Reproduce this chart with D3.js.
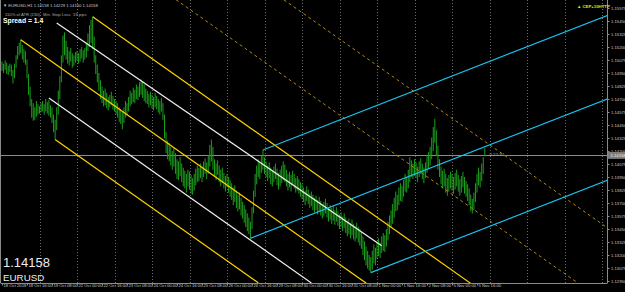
<!DOCTYPE html>
<html><head><meta charset="utf-8">
<script src="https://cdn.jsdelivr.net/npm/d3@7"></script>
<style>html,body{margin:0;padding:0;background:#000;overflow:hidden}svg{display:block}</style>
</head><body>
<svg id="c" width="625" height="292"></svg>
<script>
// ---- data (EURUSD H1, bar 0 = 18 Oct 2018 00:00) ----
const highs = [
1.1506,1.1504,1.1507,1.1505,1.1502,1.1504,1.1503,1.1498,1.1504,1.1512,
1.1521,1.1524,1.1527,1.1522,1.1518,1.1516,1.1508,1.1494,1.1482,1.1470,
1.1466,1.1462,1.1468,1.1465,1.1463,1.1466,1.1468,1.1465,1.1470,1.1467,
1.1469,1.1464,1.1462,1.1455,1.1450,1.1462,1.1478,1.1492,1.1512,1.1531,
1.1534,1.1526,1.1520,1.1516,1.1519,1.1514,1.1512,1.1515,1.1516,1.1514,
1.1518,1.1520,1.1517,1.1519,1.1524,1.1533,1.1541,1.1546,1.1549,1.1530,
1.1512,1.1503,1.1495,1.1488,1.1482,1.1478,1.1480,1.1476,1.1472,1.1474,
1.1477,1.1473,1.1470,1.1468,1.1466,1.1462,1.1460,1.1458,1.1462,1.1468,
1.1466,1.1472,1.1478,1.1476,1.1481,1.1479,1.1484,1.1482,1.1486,1.1489,
1.1487,1.1484,1.1480,1.1478,1.1475,1.1477,1.1474,1.1472,1.1476,1.1473,
1.1470,1.1468,1.1471,1.1466,1.1455,1.1438,1.1430,1.1428,1.1424,1.1420,
1.1423,1.1418,1.1412,1.1410,1.1414,1.1408,1.1404,1.1401,1.1398,1.1402,
1.1400,1.1397,1.1394,1.1398,1.1403,1.1406,1.1404,1.1408,1.1405,1.1410,
1.1413,1.1409,1.1416,1.1426,1.1431,1.1424,1.1412,1.1408,1.1411,1.1406,
1.1402,1.1404,1.1399,1.1396,1.1398,1.1395,1.1392,1.1389,1.1385,1.1387,
1.1382,1.1378,1.1380,1.1375,1.1371,1.1368,1.1364,1.1360,1.1356,1.1352,
1.1366,1.1382,1.1398,1.1406,1.1412,1.1409,1.1415,1.1421,1.1414,1.1410,
1.1406,1.1409,1.1404,1.1401,1.1405,1.1408,1.1403,1.1399,1.1402,1.1406,
1.1410,1.1407,1.1402,1.1398,1.1400,1.1397,1.1401,1.1398,1.1394,1.1396,
1.1393,1.1390,1.1388,1.1385,1.1382,1.1386,1.1383,1.1379,1.1381,1.1378,
1.1375,1.1377,1.1373,1.1376,1.1372,1.1369,1.1371,1.1374,1.1370,1.1366,
1.1368,1.1365,1.1367,1.1363,1.1366,1.1362,1.1359,1.1361,1.1357,1.1360,
1.1356,1.1353,1.1355,1.1351,1.1354,1.1350,1.1348,1.1351,1.1347,1.1345,
1.1342,1.1338,1.1333,1.1328,1.1324,1.1320,1.1318,1.1324,1.1330,1.1327,
1.1333,1.1336,1.1332,1.1338,1.1341,1.1339,1.1345,1.1352,1.1358,1.1363,
1.1369,1.1375,1.1381,1.1378,1.1385,1.1389,1.1386,1.1392,1.1398,1.1395,
1.1402,1.1414,1.1411,1.1408,1.1412,1.1409,1.1405,1.1410,1.1413,1.1408,
1.1404,1.1409,1.1415,1.1419,1.1424,1.1433,1.1443,1.1451,1.1440,1.1425,
1.1412,1.1405,1.1401,1.1403,1.1398,1.1394,1.1397,1.1400,1.1398,1.1395,
1.1399,1.1402,1.1397,1.1393,1.1396,1.1400,1.1395,1.1391,1.1388,1.1384,
1.1378,1.1374,1.1380,1.1389,1.1398,1.1404,1.1400,1.1408,1.1414,1.14229];
const lows = [
1.1497,1.1495,1.1498,1.1494,1.1493,1.1496,1.1492,1.1485,1.1490,1.1500,
1.1508,1.1512,1.1514,1.1508,1.1505,1.1503,1.1490,1.1474,1.1463,1.1452,
1.1449,1.1450,1.1453,1.1455,1.1456,1.1457,1.1458,1.1455,1.1458,1.1456,
1.1454,1.1452,1.1447,1.1438,1.1431,1.1440,1.1455,1.1470,1.1486,1.1505,
1.1512,1.1508,1.1504,1.1502,1.1506,1.1500,1.1502,1.1505,1.1507,1.1504,
1.1506,1.1509,1.1505,1.1508,1.1510,1.1516,1.1520,1.1524,1.1518,1.1505,
1.1494,1.1486,1.1478,1.1470,1.1466,1.1463,1.1464,1.1461,1.1459,1.1462,
1.1464,1.1460,1.1458,1.1455,1.1452,1.1448,1.1446,1.1441,1.1447,1.1452,
1.1454,1.1458,1.1463,1.1465,1.1467,1.1466,1.1470,1.1469,1.1472,1.1474,
1.1471,1.1468,1.1466,1.1465,1.1462,1.1464,1.1461,1.1459,1.1462,1.1460,
1.1457,1.1455,1.1458,1.1450,1.1432,1.1418,1.1412,1.1410,1.1406,1.1402,
1.1405,1.1398,1.1393,1.1392,1.1396,1.1390,1.1386,1.1384,1.1380,1.1386,
1.1383,1.1379,1.1378,1.1382,1.1387,1.1390,1.1391,1.1394,1.1390,1.1395,
1.1398,1.1393,1.1398,1.1405,1.1410,1.1402,1.1396,1.1392,1.1397,1.1390,
1.1386,1.1389,1.1384,1.1381,1.1385,1.1380,1.1376,1.1373,1.1368,1.1371,
1.1365,1.1362,1.1364,1.1358,1.1355,1.1351,1.1347,1.1343,1.1340,1.1336,
1.1345,1.1360,1.1376,1.1388,1.1395,1.1393,1.1399,1.1402,1.1398,1.1395,
1.1391,1.1394,1.1388,1.1386,1.1390,1.1393,1.1387,1.1383,1.1386,1.1389,
1.1392,1.1390,1.1386,1.1382,1.1385,1.1381,1.1387,1.1384,1.1380,1.1382,
1.1379,1.1376,1.1374,1.1371,1.1368,1.1372,1.1369,1.1365,1.1367,1.1363,
1.1361,1.1363,1.1359,1.1362,1.1358,1.1355,1.1357,1.1360,1.1356,1.1352,
1.1354,1.1350,1.1353,1.1349,1.1352,1.1348,1.1345,1.1347,1.1343,1.1346,
1.1341,1.1338,1.1340,1.1336,1.1339,1.1335,1.1333,1.1336,1.1332,1.1329,
1.1326,1.1320,1.1315,1.1310,1.1307,1.1305,1.1303,1.1306,1.1312,1.1310,
1.1316,1.1319,1.1317,1.1322,1.1324,1.1323,1.1328,1.1334,1.1340,1.1346,
1.1350,1.1356,1.1362,1.1363,1.1368,1.1372,1.1371,1.1376,1.1381,1.1380,
1.1384,1.1390,1.1395,1.1393,1.1396,1.1394,1.1390,1.1395,1.1398,1.1393,
1.1389,1.1394,1.1399,1.1403,1.1406,1.1412,1.1420,1.1428,1.1415,1.1402,
1.1395,1.1388,1.1384,1.1386,1.1380,1.1377,1.1381,1.1384,1.1382,1.1379,
1.1383,1.1386,1.1381,1.1377,1.1380,1.1385,1.1379,1.1376,1.1372,1.1368,
1.1362,1.1360,1.1363,1.1371,1.1380,1.1387,1.1385,1.1391,1.1398,1.14150];

const priceTicks = [1.15575,1.15450,1.15325,1.15200,1.15075,1.14950,1.14825,1.14700,1.14575,1.14450,1.14325,1.14200,
  1.14075,1.13950,1.13825,1.13700,1.13575,1.13450,1.13325,1.13200,1.13075,1.12950];
const timeLabels = ["18 Oct 2018","18 Oct 16:00","19 Oct 08:00","22 Oct 00:00","22 Oct 16:00","23 Oct 08:00",
  "24 Oct 00:00","24 Oct 16:00","25 Oct 08:00","26 Oct 00:00","26 Oct 16:00","29 Oct 08:00","30 Oct 00:00",
  "30 Oct 16:00","31 Oct 08:00","1 Nov 00:00","1 Nov 16:00","2 Nov 08:00","5 Nov 00:00","5 Nov 16:00"];
const timeLabelBars = [0,16,32,48,64,80,96,112,128,144,160,176,192,208,224,240,256,272,288,304];
const gridBars = [24,48,72,96,120,144,168,192,216,240,264,288,312,336,360,384];

// trend objects: [bar1, price1, bar2, price2]
const yellowLines = [[58,1.1549,300,1.12927],[12,1.1527,233,1.12930],[34,1.1431,164,1.12933]];
const whiteLines  = [[35,1.1543,243,1.1329],[30,1.1471,198,1.12931]];
const cyanLines   = [[167,1.1421,390,1.15519],[159,1.1336,390,1.14716],[236,1.1303,390,1.13934]];
const dashedLines = [[58,1.1622,390,1.12704],[58,1.1695,390,1.13434]];
const currentPrice = 1.14158;
const ohlc = ["1.14158","1.14229","1.14150","1.14158"];

// ---- drawing ----
const W = 625, H = 292, plotR = 607, plotB = 283;
const svg = d3.select("#c");
svg.append("rect").attr("width",W).attr("height",H).attr("fill","#000");

const x = d3.scaleLinear().domain([0, 388]).range([2, 2 + 388*1.5625]);
const y = d3.scaleLinear().domain([1.12950, 1.15575]).range([281, 8]);

svg.append("clipPath").attr("id","plot").append("rect")
  .attr("x",1).attr("y",0).attr("width",plotR-1).attr("height",plotB);
const g = svg.append("g").attr("clip-path","url(#plot)");

// grid
g.selectAll("line.grid").data(gridBars).join("line")
  .attr("x1",d=>Math.round(x(d))+0.5).attr("x2",d=>Math.round(x(d))+0.5)
  .attr("y1",0).attr("y2",plotB)
  .attr("stroke","#6a6a6a").attr("stroke-width",1).attr("stroke-dasharray","1,2");

// current price line
g.append("line").attr("x1",1).attr("x2",plotR)
  .attr("y1",Math.round(y(currentPrice))+0.5).attr("y2",Math.round(y(currentPrice))+0.5)
  .attr("stroke","#8c8c8c").attr("stroke-width",1);

// bars
g.selectAll("rect.bar").data(highs).join("rect")
  .attr("x",(d,i)=>x(i)-0.5).attr("width",1)
  .attr("y",d=>y(d)).attr("height",(d,i)=>Math.max(1,y(lows[i])-y(d)))
  .attr("fill","#1c9e1c");

function drawLines(data, color, width, dash){
  g.selectAll(null).data(data).join("line")
    .attr("x1",d=>x(d[0])).attr("y1",d=>y(d[1]))
    .attr("x2",d=>x(d[2])).attr("y2",d=>y(d[3]))
    .attr("stroke",color).attr("stroke-width",width)
    .attr("stroke-dasharray",dash||null);
}
drawLines(dashedLines,"#b08a10",1,"3,3");
drawLines(whiteLines,"#f0f0f0",1.2);
drawLines(yellowLines,"#ffd200",1.2);
drawLines(cyanLines,"#19c3f0",1.2);

// timer label
svg.append("text").attr("x",488).attr("y",155.5).text("-0:22:32")
  .attr("fill","#a8a8a8").attr("font-size",4.4).attr("font-family","Liberation Sans, Arial, sans-serif");

// axes
const font = "Liberation Sans, Arial, sans-serif";
const ya = svg.append("g").attr("transform",`translate(${plotR+0.5},0)`)
  .call(d3.axisRight(y).tickValues(priceTicks).tickSize(2).tickPadding(1.5).tickFormat(d3.format(".5f")));
ya.select(".domain").attr("stroke","#8a8a8a").attr("d",`M0,0V${plotB}`);
ya.selectAll(".tick line").attr("stroke","#8a8a8a");
ya.selectAll("text").attr("fill","#c8c8c8").attr("font-size",4.2).attr("font-family",font);

const xa = svg.append("g").attr("transform",`translate(0,${plotB+0.5})`)
  .call(d3.axisBottom(x).tickValues(timeLabelBars).tickSize(2)
    .tickFormat((d,i)=>timeLabels[i]));
xa.select(".domain").attr("stroke","#8a8a8a").attr("d",`M0.5,0H${plotR+0.5}`);
xa.selectAll(".tick line").attr("stroke","#8a8a8a");
xa.selectAll("text").attr("fill","#c8c8c8").attr("font-size",4.2).attr("font-family",font)
  .attr("text-anchor","start").attr("dx",1).attr("dy",0).attr("y",3.2);

// left border
svg.append("line").attr("x1",0.5).attr("x2",0.5).attr("y1",0).attr("y2",plotB)
  .attr("stroke","#8a8a8a");

// current price box
const py = y(currentPrice);
svg.append("rect").attr("x",plotR+1).attr("y",py-3.5).attr("width",W-plotR-1).attr("height",7).attr("fill","#7c7c7c");
svg.append("text").attr("x",plotR+3.5).attr("y",py+1.6).text(d3.format(".5f")(currentPrice))
  .attr("fill","#f0f0f0").attr("font-size",4.2).attr("font-family",font);

// header texts
svg.append("text").attr("x",3).attr("y",6.5).text("▼ EURUSD,H1  " + ohlc.join(" "))
  .attr("fill","#c8c8c8").attr("font-size",4.2).attr("font-family",font);
[["110% of ATR (230)",5],["Min. Stop Loss",43],["19 pips",73]].forEach(t=>{
  svg.append("text").attr("x",t[1]).attr("y",15.5).text(t[0])
    .attr("fill","#a8a8a8").attr("font-size",4.2).attr("font-family",font);
});
svg.append("text").attr("x",3).attr("y",23.3).text("Spread = 1.4")
  .attr("fill","#ffffff").attr("font-size",6.8).attr("font-weight","bold").attr("font-family",font);
svg.append("text").attr("x",577).attr("y",7.5).text("▲ CEP+10HTTP")
  .attr("fill","#e6e600").attr("font-size",4.3).attr("font-weight","bold").attr("font-family",font);

// symbol / price
svg.append("text").attr("x",3).attr("y",267).text("1.14158")
  .attr("fill","#ececec").attr("font-size",13).attr("font-family",font);
svg.append("text").attr("x",3).attr("y",280.5).text("EURUSD")
  .attr("fill","#ececec").attr("font-size",9.8).attr("font-family",font);
</script>
</body></html>
